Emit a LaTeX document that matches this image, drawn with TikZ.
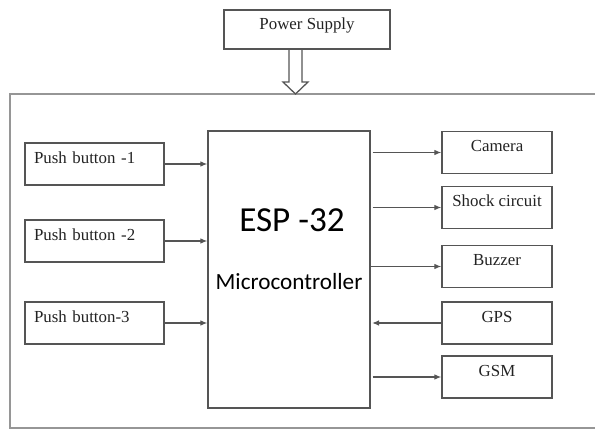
\documentclass[tikz,border=0pt]{standalone}
\usepackage{fontspec}
\setmainfont{Liberation Serif}
\newfontfamily\espfont{Carlito}
\usetikzlibrary{calc,arrows.meta}

\definecolor{boxline}{RGB}{85,85,85}
\definecolor{frameline}{RGB}{150,150,150}
\definecolor{boxtext}{RGB}{35,35,35}

\tikzset{
  unit/.style={draw=boxline, line width=1.8pt, inner ysep=0pt, text=boxtext,
    font=\fontsize{24}{28}\selectfont, text height=1.0cm, text depth=1.1cm},
  inbox/.style={unit, minimum width=6.95cm, inner xsep=0.45cm, text width=6.05cm, align=left},
  outbox/.style={unit, minimum width=5.5cm, inner xsep=0pt, align=center},
  link/.style={draw=boxline, line width=1.8pt, -{Latex[length=10pt,width=8pt]}}
}

\begin{document}
\begin{tikzpicture}[x=0.05cm, y=-0.05cm]
\useasboundingbox (0,0) rectangle (595,430);

% outer frame (runs off the right side)
\draw[frameline, line width=2.8pt] (595,94) -- (10,94) -- (10,428) -- (595,428);

\node[unit, minimum width=8.3cm, inner xsep=0pt, text depth=0.95cm] (ps) at (307,29.5) {Power Supply};
\coordinate (pwrtip) at (295.5,94);

\node[inbox] (pb1) at (94.5,164) {Push button -1};
\node[inbox] (pb2) at (94.5,241) {Push button -2};
\node[inbox] (pb3) at (94.5,323) {Push button-3};

\node[draw=boxline, line width=1.8pt, minimum width=8.1cm, minimum height=13.85cm] (esp) at (289,269.5) {};
\node[font=\espfont\fontsize{50}{56}\selectfont] (espname) at (292,220) {ESP -32};
\node[font=\espfont\fontsize{33}{38}\selectfont] (espsub) at (289,282) {Microcontroller};

\node[outbox] (cam) at (497,152.5) {Camera};
\node[outbox] (shock) at (497,207.5) {Shock circuit};
\node[outbox] (buzz) at (497,266.5) {Buzzer};
\node[outbox] (gps) at (497,323) {GPS};
\node[outbox] (gsm) at (497,377) {GSM};

% power arrow
\draw[boxline, line width=1.8pt, line join=miter]
  (ps.south -| pwrtip) ++(-6.5,0) |- ($(pwrtip)+(-12.5,-12)$) -- (pwrtip)
  -- ($(pwrtip)+(12.5,-12)$) -| ($(ps.south -| pwrtip)+(6.5,0)$);

\draw[link] (pb1.east) -- (pb1.east -| esp.west);
\draw[link] (pb2.east) -- (pb2.east -| esp.west);
\draw[link] (pb3.east) -- (pb3.east -| esp.west);

\draw[link] ([xshift=3]esp.east |- cam.west) -- (cam.west);
\draw[link] ([xshift=3]esp.east |- shock.west) -- (shock.west);
\draw[link] (esp.east |- buzz.west) -- (buzz.west);
\draw[link] (gps.west) -- ([xshift=2]esp.east |- gps.west);
\draw[link] ([xshift=3]esp.east |- gsm.west) -- (gsm.west);
\end{tikzpicture}
\end{document}
